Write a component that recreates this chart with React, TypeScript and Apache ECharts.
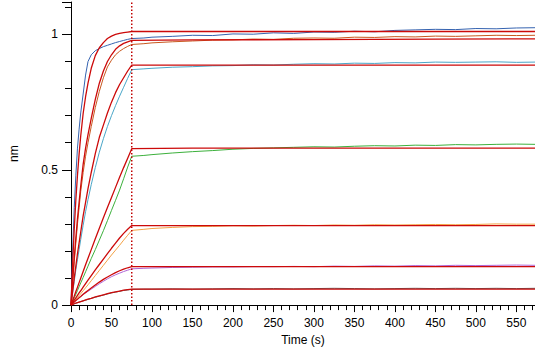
import React, { useEffect, useRef } from "react";
import * as echarts from "echarts";

// Association phase times (s), dissociation phase times (s)
const tAssoc = [0, 2, 4, 6, 8, 10, 12, 15, 18, 21, 25, 30, 35, 40, 45, 50, 55, 60, 65, 70, 75];
const tDiss = [75, 90, 100, 125, 150, 175, 200, 225, 250, 275, 300, 325, 350, 375, 400, 425, 450, 475, 500, 525, 550, 573];
const tFitDiss = [75, 150, 300, 450, 573];

// Measured responses (nm)
const blueA = [0, 0.2, 0.36, 0.48, 0.58, 0.65, 0.71, 0.78, 0.85, 0.9, 0.925, 0.94, 0.948, 0.955, 0.96, 0.965, 0.97, 0.974, 0.978, 0.982, 0.985];
const blueD = [0.985, 0.987, 0.99, 0.993, 0.997, 0.996, 1.002, 1.001, 1.006, 1.004, 1.009, 1.008, 1.012, 1.01, 1.015, 1.017, 1.019, 1.018, 1.022, 1.021, 1.024, 1.025];
const brownA = [0, 0.08, 0.16, 0.23, 0.3, 0.36, 0.42, 0.49, 0.55, 0.6, 0.66, 0.73, 0.79, 0.84, 0.88, 0.905, 0.925, 0.938, 0.948, 0.956, 0.963];
const brownD = [0.963, 0.966, 0.969, 0.973, 0.976, 0.979, 0.98, 0.983, 0.982, 0.986, 0.987, 0.986, 0.99, 0.989, 0.992, 0.991, 0.994, 0.993, 0.995, 0.997, 0.996, 0.997];
const cyanA = [0, 0.045, 0.088, 0.13, 0.168, 0.205, 0.242, 0.295, 0.345, 0.39, 0.445, 0.508, 0.565, 0.615, 0.66, 0.7, 0.737, 0.772, 0.805, 0.838, 0.87];
const cyanD = [0.87, 0.873, 0.875, 0.879, 0.881, 0.884, 0.885, 0.888, 0.887, 0.89, 0.892, 0.891, 0.894, 0.893, 0.896, 0.895, 0.898, 0.897, 0.898, 0.899, 0.897, 0.898];
const greenA = [0, 0.013, 0.027, 0.04, 0.054, 0.068, 0.082, 0.102, 0.123, 0.144, 0.172, 0.205, 0.24, 0.275, 0.312, 0.35, 0.387, 0.425, 0.467, 0.51, 0.55];
const greenD = [0.55, 0.553, 0.556, 0.562, 0.567, 0.571, 0.576, 0.579, 0.581, 0.583, 0.585, 0.584, 0.587, 0.589, 0.588, 0.591, 0.59, 0.593, 0.592, 0.594, 0.595, 0.594];
const orangeA = [0, 0.007, 0.014, 0.021, 0.028, 0.035, 0.042, 0.053, 0.064, 0.075, 0.09, 0.109, 0.128, 0.147, 0.166, 0.185, 0.203, 0.221, 0.24, 0.258, 0.276];
const orangeD = [0.276, 0.28, 0.283, 0.287, 0.29, 0.291, 0.293, 0.292, 0.294, 0.295, 0.294, 0.296, 0.295, 0.297, 0.296, 0.297, 0.298, 0.297, 0.298, 0.3, 0.299, 0.299];
const purpleA = [0, 0.006, 0.012, 0.017, 0.022, 0.027, 0.032, 0.039, 0.045, 0.051, 0.059, 0.069, 0.079, 0.088, 0.097, 0.105, 0.112, 0.118, 0.124, 0.129, 0.134];
const purpleD = [0.134, 0.136, 0.137, 0.139, 0.14, 0.141, 0.141, 0.142, 0.142, 0.143, 0.142, 0.144, 0.143, 0.145, 0.144, 0.146, 0.145, 0.147, 0.146, 0.147, 0.148, 0.147];
const grayA = [0, 0.003, 0.005, 0.007, 0.009, 0.011, 0.013, 0.016, 0.018, 0.021, 0.025, 0.029, 0.033, 0.037, 0.041, 0.045, 0.048, 0.051, 0.054, 0.056, 0.058];
const grayD = [0.058, 0.059, 0.059, 0.06, 0.059, 0.06, 0.061, 0.06, 0.061, 0.06, 0.061, 0.062, 0.061, 0.06, 0.061, 0.062, 0.061, 0.062, 0.061, 0.062, 0.061, 0.062];

// Fitted curves (nm)
const fit1A = [0, 0.15, 0.28, 0.39, 0.48, 0.558, 0.625, 0.708, 0.77, 0.82, 0.875, 0.922, 0.951, 0.97, 0.985, 0.994, 1.0, 1.004, 1.007, 1.009, 1.011];
const fit1D = [1.011, 1.011, 1.011, 1.011, 1.011];
const fit2A = [0, 0.09, 0.175, 0.25, 0.32, 0.38, 0.44, 0.52, 0.58, 0.63, 0.69, 0.76, 0.82, 0.865, 0.9, 0.925, 0.945, 0.958, 0.967, 0.973, 0.978];
const fit2D = [0.978, 0.98, 0.981, 0.983, 0.984];
const fit3A = [0, 0.05, 0.1, 0.145, 0.19, 0.23, 0.27, 0.33, 0.38, 0.43, 0.49, 0.56, 0.62, 0.665, 0.71, 0.75, 0.785, 0.815, 0.84, 0.865, 0.887];
const fit3D = [0.887, 0.887, 0.887, 0.887, 0.887];
const fit4A = [0, 0.017, 0.033, 0.05, 0.066, 0.083, 0.099, 0.124, 0.149, 0.173, 0.205, 0.245, 0.284, 0.323, 0.361, 0.398, 0.435, 0.472, 0.508, 0.543, 0.578];
const fit4D = [0.578, 0.58, 0.58, 0.58, 0.58];
const fit5A = [0, 0.009, 0.018, 0.027, 0.036, 0.045, 0.053, 0.066, 0.079, 0.092, 0.109, 0.13, 0.15, 0.17, 0.19, 0.21, 0.229, 0.248, 0.265, 0.28, 0.294];
const fit5D = [0.294, 0.294, 0.294, 0.294, 0.294];
const fit6A = [0, 0.006, 0.011, 0.017, 0.022, 0.027, 0.032, 0.04, 0.047, 0.054, 0.063, 0.074, 0.085, 0.095, 0.104, 0.112, 0.12, 0.127, 0.133, 0.138, 0.142];
const fit6D = [0.142, 0.142, 0.142, 0.142, 0.142];
const fit7A = [0, 0.002, 0.005, 0.007, 0.009, 0.011, 0.013, 0.016, 0.019, 0.022, 0.025, 0.03, 0.034, 0.038, 0.042, 0.046, 0.049, 0.052, 0.055, 0.057, 0.059];
const fit7D = [0.059, 0.059, 0.059, 0.059, 0.059];

const stepTime = 75;
const xMax = 573;
const yMax = 1.12;

const dataSeries = [
  { a: blueA, d: blueD, color: "#3563b0" },
  { a: brownA, d: brownD, color: "#c8581e" },
  { a: cyanA, d: cyanD, color: "#4aa6c8" },
  { a: greenA, d: greenD, color: "#3cb03c" },
  { a: orangeA, d: orangeD, color: "#f3a145" },
  { a: purpleA, d: purpleD, color: "#b066d6" },
  { a: grayA, d: grayD, color: "#5a5a5a" },
];
const fitSeries = [
  { a: fit1A, d: fit1D },
  { a: fit2A, d: fit2D },
  { a: fit3A, d: fit3D },
  { a: fit4A, d: fit4D },
  { a: fit5A, d: fit5D },
  { a: fit6A, d: fit6D },
  { a: fit7A, d: fit7D },
];

const toPairs = (a: number[], d: number[], td: number[]) => [
  ...tAssoc.map((t, i) => [t, a[i]]),
  ...td.slice(1).map((t, i) => [t, d[i + 1]]),
];

export default function App() {
  const ref = useRef<HTMLDivElement>(null);
  useEffect(() => {
    if (!ref.current) return;
    const chart = echarts.init(ref.current, null, { renderer: "svg" });
    const font = "Liberation Sans, Arial, sans-serif";
    const series: any[] = [];
    dataSeries.forEach((s) => {
      series.push({
        type: "line",
        data: toPairs(s.a, s.d, tDiss),
        showSymbol: false,
        lineStyle: { color: s.color, width: 1 },
        z: 2,
      });
    });
    fitSeries.forEach((s) => {
      series.push({
        type: "line",
        data: toPairs(s.a, s.d, tFitDiss),
        showSymbol: false,
        lineStyle: { color: "#cc0a0a", width: 1.3 },
        z: 3,
      });
    });
    series.push({
      type: "line",
      data: [
        [stepTime, 0],
        [stepTime, yMax],
      ],
      showSymbol: false,
      lineStyle: { color: "#c00000", width: 1.5, type: [1.5, 2] },
      z: 4,
    });
    chart.setOption({
      animation: false,
      grid: { left: 68, right: 0, top: 2, bottom: 42 },
      xAxis: {
        type: "value",
        min: 0,
        max: xMax,
        interval: 50,
        name: "Time (s)",
        nameLocation: "middle",
        nameGap: 27,
        nameTextStyle: { color: "#000", fontSize: 12, fontFamily: font },
        axisLine: { lineStyle: { color: "#000", width: 1 } },
        axisTick: { length: 7, lineStyle: { color: "#000" } },
        minorTick: { show: true, splitNumber: 5, length: 5, lineStyle: { color: "#000" } },
        splitLine: { show: false },
        minorSplitLine: { show: false },
        axisLabel: { color: "#000", fontSize: 12, fontFamily: font, margin: 12, showMaxLabel: false },
      },
      yAxis: {
        type: "value",
        min: 0,
        max: yMax,
        interval: 0.5,
        name: "nm",
        nameLocation: "middle",
        nameRotate: 90,
        nameGap: 51,
        nameTextStyle: { color: "#000", fontSize: 12, fontFamily: font },
        axisLine: { show: true, lineStyle: { color: "#000", width: 1 } },
        axisTick: { show: true, length: 9, lineStyle: { color: "#000" } },
        minorTick: { show: true, splitNumber: 5, length: 6, lineStyle: { color: "#000" } },
        splitLine: { show: false },
        minorSplitLine: { show: false },
        axisLabel: { color: "#000", fontSize: 12, fontFamily: font, margin: 13, showMaxLabel: false },
      },
      series,
    });
    return () => chart.dispose();
  }, []);
  return (
    <div
      ref={ref}
      style={{ position: "absolute", left: 0, top: 0, width: 535, height: 351, background: "#fff" }}
    />
  );
}
